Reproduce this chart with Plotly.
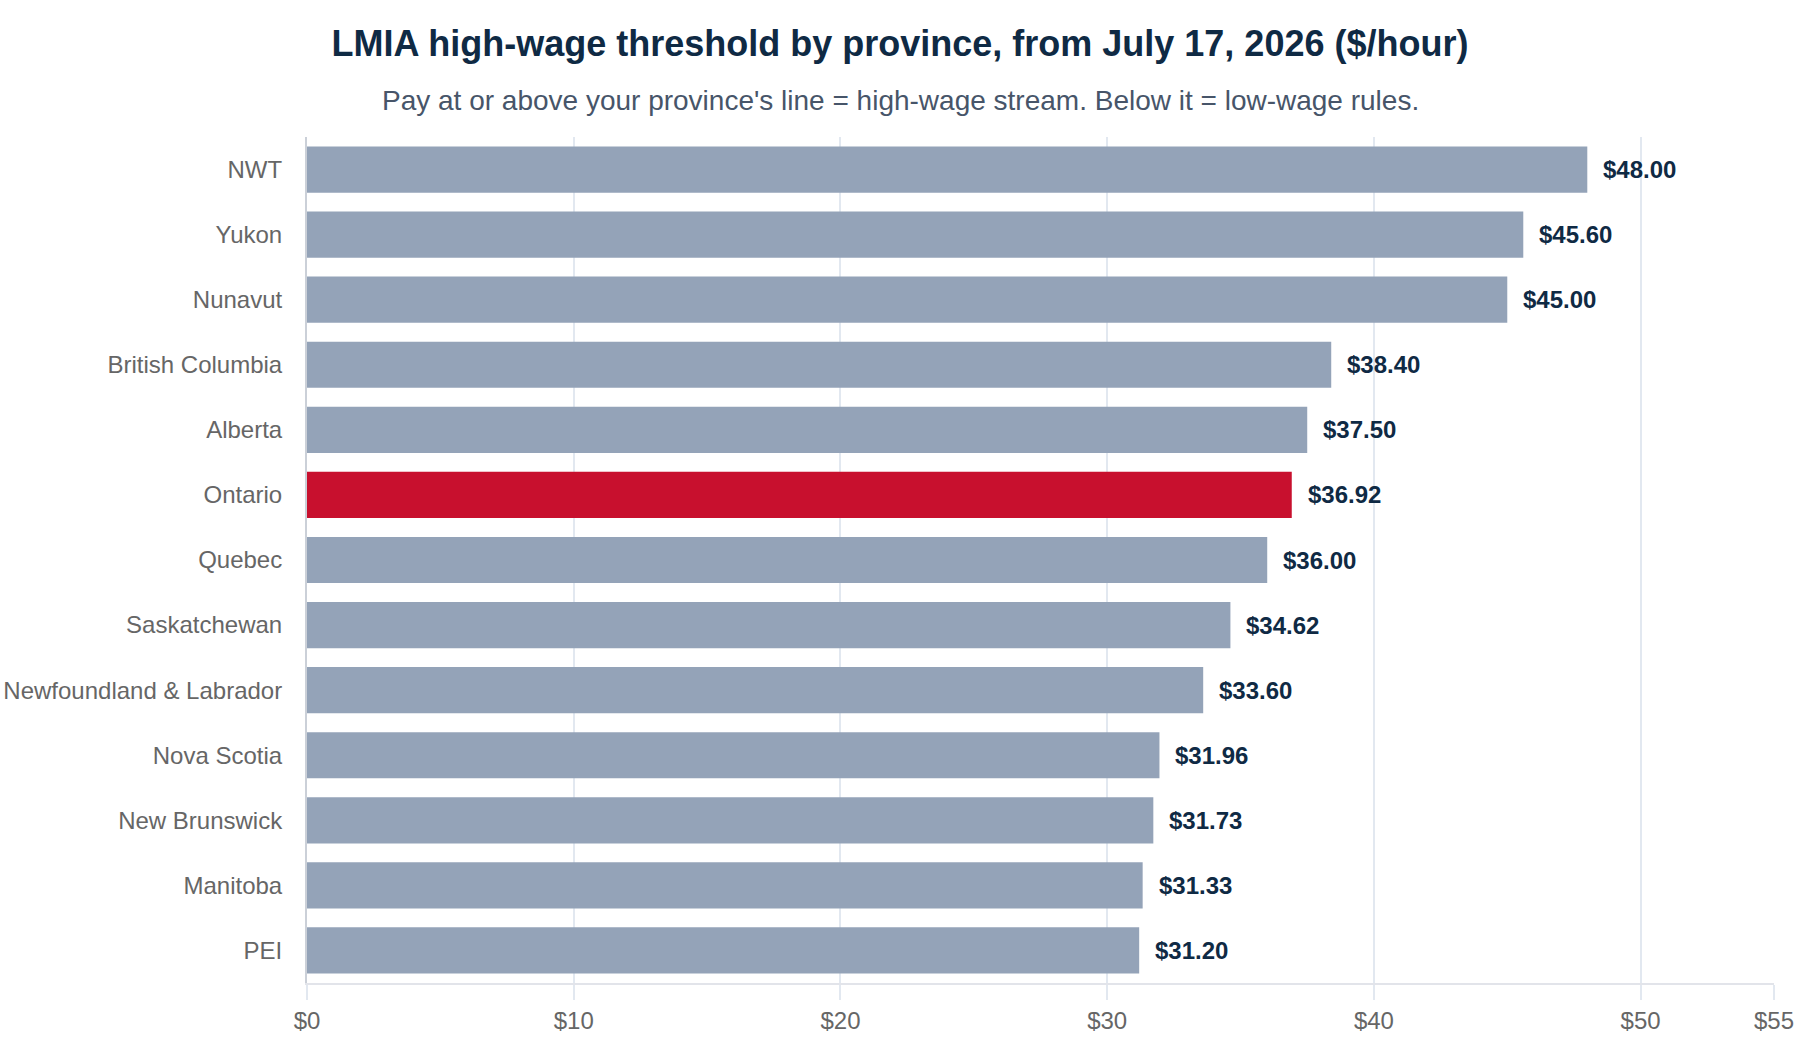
import plotly.graph_objects as go

# Provinces, top to bottom
provinces = [
    "NWT", "Yukon", "Nunavut", "British Columbia", "Alberta", "Ontario",
    "Quebec", "Saskatchewan", "Newfoundland & Labrador", "Nova Scotia",
    "New Brunswick", "Manitoba", "PEI",
]

# High-wage threshold ($/hour)
wages = [48.00, 45.60, 45.00, 38.40, 37.50, 36.92, 36.00, 34.62, 33.60,
         31.96, 31.73, 31.33, 31.20]

# Axis ticks
tick_vals = [0, 10, 20, 30, 40, 50, 55]
tick_text = ["$0", "$10", "$20", "$30", "$40", "$50", "$55"]

HIGHLIGHT = "Ontario"
FONT = "Liberation Sans, Arial, sans-serif"

# Plot area edges in pixels (used to centre the subtitle on the page)
W, H = 1800, 1040
M_L, M_R, M_T, M_B = 307, 26, 137, 57

# Ontario in red, everything else slate
bar_colors = ["#c8102e" if p == HIGHLIGHT else "#94a3b8" for p in provinces]

fig = go.Figure(
    go.Bar(
        x=wages,
        y=provinces,
        orientation="h",
        marker=dict(color=bar_colors, line=dict(width=0)),
        hovertemplate="%{y}: $%{x:.2f}/hour<extra></extra>",
    )
)

# Value labels just past the end of each bar
for p, w in zip(provinces, wages):
    fig.add_annotation(
        x=w, y=p, xref="x", yref="y",
        text=f"<b>${w:.2f}</b>",
        showarrow=False, xanchor="left", xshift=14,
        font=dict(family=FONT, size=24, color="#0f2a44"),
    )

# Subtitle under the title, centred on the whole page
plot_w = W - M_L - M_R
plot_h = H - M_T - M_B
fig.add_annotation(
    x=(W / 2 - M_L) / plot_w,
    y=(H - 101 - M_B) / plot_h,
    xref="paper", yref="paper",
    xanchor="center", yanchor="middle",
    text="Pay at or above your province's line = high-wage stream. Below it = low-wage rules.",
    showarrow=False,
    font=dict(family=FONT, size=28, color="#475569"),
)

fig.update_layout(
    width=W,
    height=H,
    paper_bgcolor="white",
    plot_bgcolor="white",
    bargap=0.29,
    showlegend=False,
    margin=dict(l=M_L, r=M_R, t=M_T, b=M_B),
    title=dict(
        text="<b>LMIA high-wage threshold by province, from July 17, 2026 ($/hour)</b>",
        x=0.5, xanchor="center",
        y=1 - 43 / H, yanchor="middle", yref="container",
        font=dict(family=FONT, size=36, color="#0f2a44"),
    ),
    font=dict(family=FONT),
)

fig.update_xaxes(
    range=[0, 55],
    tickvals=tick_vals,
    ticktext=tick_text,
    showgrid=True,
    gridcolor="#e2e8f0",
    gridwidth=1.5,
    zeroline=False,
    showline=True,
    linecolor="#e2e4ea",
    linewidth=2,
    ticks="outside",
    ticklen=15,
    tickcolor="#e2e8f0",
    tickwidth=1.5,
    tickfont=dict(family=FONT, size=24, color="#666666"),
    automargin=False,
)

fig.update_yaxes(
    autorange="reversed",
    showgrid=False,
    zeroline=False,
    showline=True,
    linecolor="#cbd0d8",
    linewidth=2,
    ticks="",
    ticklabelstandoff=18,
    tickfont=dict(family=FONT, size=24, color="#666666"),
    automargin=False,
)

# Drop the browser's default body margin so the figure sits at the page corner
fig.write_html(
    "out.html",
    config={"displayModeBar": False},
    post_script="document.body.style.margin='0';",
)
